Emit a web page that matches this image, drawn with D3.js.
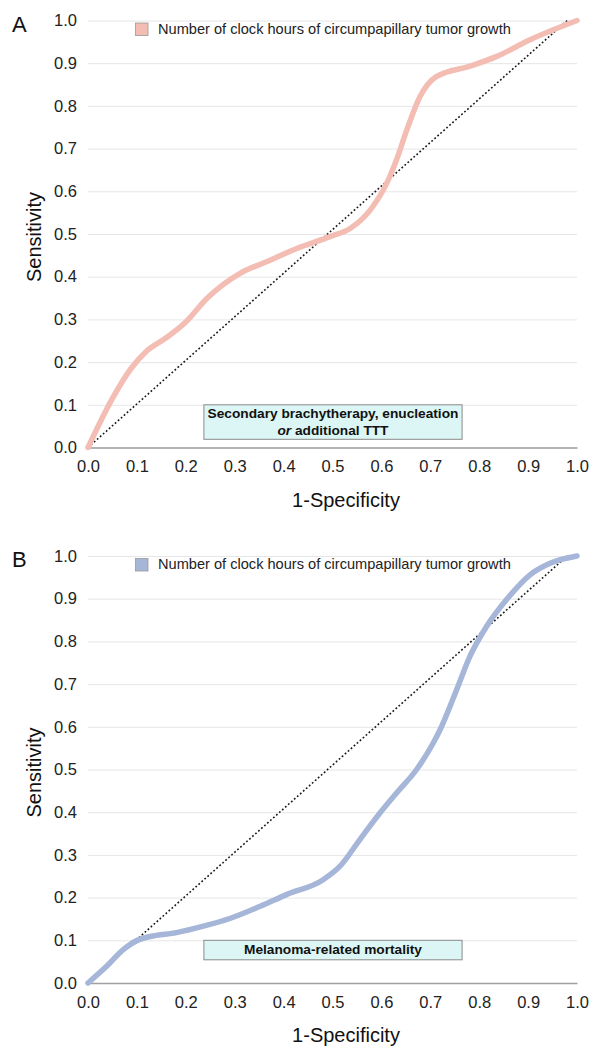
<!DOCTYPE html>
<html>
<head>
<meta charset="utf-8">
<script src="https://cdn.jsdelivr.net/npm/d3@7"></script>
<style>
  body { margin: 0; background: #fff; }
  svg { display: block; font-family: "Liberation Sans", Arial, sans-serif; }
</style>
</head>
<body>
<div id="chart"></div>
<script>
// ticks shared by both panels
var tickValues = [0, 0.1, 0.2, 0.3, 0.4, 0.5, 0.6, 0.7, 0.8, 0.9, 1.0];
var legendText = "Number of clock hours of circumpapillary tumor growth";

// panel A : secondary treatment
var xA = [0, 0.05, 0.088, 0.12, 0.16, 0.2, 0.243, 0.311, 0.365, 0.427, 0.495, 0.536, 0.577, 0.611, 0.631, 0.652, 0.679, 0.713, 0.781, 0.836, 0.904, 1.0];
var yA = [0, 0.115, 0.185, 0.226, 0.257, 0.294, 0.349, 0.408, 0.435, 0.466, 0.494, 0.513, 0.556, 0.619, 0.674, 0.744, 0.822, 0.869, 0.893, 0.916, 0.955, 1.0];

// panel B : melanoma-related mortality
var xB = [0, 0.038, 0.072, 0.103, 0.127, 0.181, 0.236, 0.29, 0.351, 0.406, 0.481, 0.515, 0.556, 0.597, 0.631, 0.672, 0.706, 0.72, 0.754, 0.781, 0.815, 0.856, 0.904, 0.945, 1.0];
var yB = [0, 0.039, 0.078, 0.101, 0.109, 0.118, 0.133, 0.151, 0.179, 0.207, 0.242, 0.273, 0.336, 0.398, 0.445, 0.5, 0.562, 0.593, 0.687, 0.765, 0.835, 0.898, 0.956, 0.983, 1.0];

// chance line
var xDiag = [0, 0.98];
var yDiag = [0, 1.0];

var svg = d3.select("#chart").append("svg").attr("width", 591).attr("height", 1047);

var width = 489, height = 427;
var x = d3.scaleLinear().domain([0, 1]).range([0, width]);
var y = d3.scaleLinear().domain([0, 1]).range([height, 0]);

var line = d3.line()
    .x(function(d) { return x(d[0]); })
    .y(function(d) { return y(d[1]); });

function drawPanel(top, letter, xs, ys, color, noteLines, noteH) {
    var g = svg.append("g").attr("transform", "translate(88," + top + ")");

    // panel letter
    svg.append("text")
	.attr("x", 12).attr("y", top + 11)
	.attr("font-size", 22).attr("fill", "#111")
	.text(letter);

    // y axis with grid
    var ya = g.append("g")
	.call(d3.axisLeft(y).tickValues(tickValues).tickSize(-width).tickPadding(11).tickFormat(d3.format(".1f")));
    ya.select(".domain").remove();
    ya.selectAll(".tick line").attr("stroke", "#e6e6e6");
    ya.selectAll(".tick text").attr("font-size", 16.5).attr("fill", "#222").attr("font-family", "Liberation Sans, Arial, sans-serif");

    // x axis
    var xa = g.append("g")
	.attr("transform", "translate(0," + height + ")")
	.call(d3.axisBottom(x).tickValues(tickValues).tickSize(0).tickPadding(13).tickFormat(d3.format(".1f")));
    xa.select(".domain").attr("stroke", "#a0a0a0").attr("stroke-width", 1.3);
    xa.selectAll(".tick text").attr("font-size", 16.5).attr("fill", "#222").attr("font-family", "Liberation Sans, Arial, sans-serif");

    // axis titles
    g.append("text")
	.attr("x", 258).attr("y", height + 59)
	.attr("text-anchor", "middle")
	.attr("font-size", 20).attr("fill", "#111")
	.text("1-Specificity");

    g.append("text")
	.attr("transform", "translate(-47," + (height / 2 + 3) + ") rotate(-90)")
	.attr("text-anchor", "middle")
	.attr("font-size", 20).attr("fill", "#111")
	.text("Sensitivity");

    // annotation box
    var bx0 = x(0.237), bx1 = x(0.765), by0 = y(0.1);
    g.append("rect")
	.attr("x", bx0).attr("y", by0)
	.attr("width", bx1 - bx0).attr("height", noteH)
	.attr("fill", "#dcf6f5").attr("stroke", "#8a8a8a").attr("stroke-width", 1);
    noteLines.forEach(function(ln, i) {
	var t = g.append("text")
	    .attr("x", (bx0 + bx1) / 2).attr("y", by0 + 13.5 + i * 16.3)
	    .attr("text-anchor", "middle")
	    .attr("font-size", 13.7).attr("font-weight", "bold").attr("fill", "#111");
	ln.forEach(function(part) {
	    t.append("tspan").attr("font-style", part[1] ? "italic" : "normal").text(part[0]);
	});
    });

    // chance diagonal
    g.append("path")
	.datum(d3.zip(xDiag, yDiag))
	.attr("fill", "none")
	.attr("stroke", "#1a1a1a")
	.attr("stroke-width", 1.6)
	.attr("stroke-dasharray", "1.8,2.2")
	.attr("d", line);

    // ROC curve
    g.append("path")
	.datum(d3.zip(xs, ys))
	.attr("fill", "none")
	.attr("stroke", color)
	.attr("stroke-width", 5.5)
	.attr("stroke-linejoin", "round")
	.attr("stroke-linecap", "round")
	.attr("d", line.curve(d3.curveMonotoneX));
    line.curve(d3.curveLinear);

    // legend
    g.append("rect")
	.attr("x", 47.5).attr("y", 2.5)
	.attr("width", 12.5).attr("height", 12.5)
	.attr("fill", color).attr("stroke", "#9a9a9a").attr("stroke-width", 0.8);
    g.append("text")
	.attr("x", 70).attr("y", 13.2)
	.attr("font-size", 14.6).attr("fill", "#222")
	.text(legendText);
}

drawPanel(20.5, "A", xA, yA, "#f3bdb3",
	  [[["Secondary brachytherapy, enucleation", false]], [["or", true], [" additional TTT", false]]], 34.5);
drawPanel(556, "B", xB, yB, "#a6b6d9",
	  [[["Melanoma-related mortality", false]]], 19.5);
</script>
</body>
</html>
